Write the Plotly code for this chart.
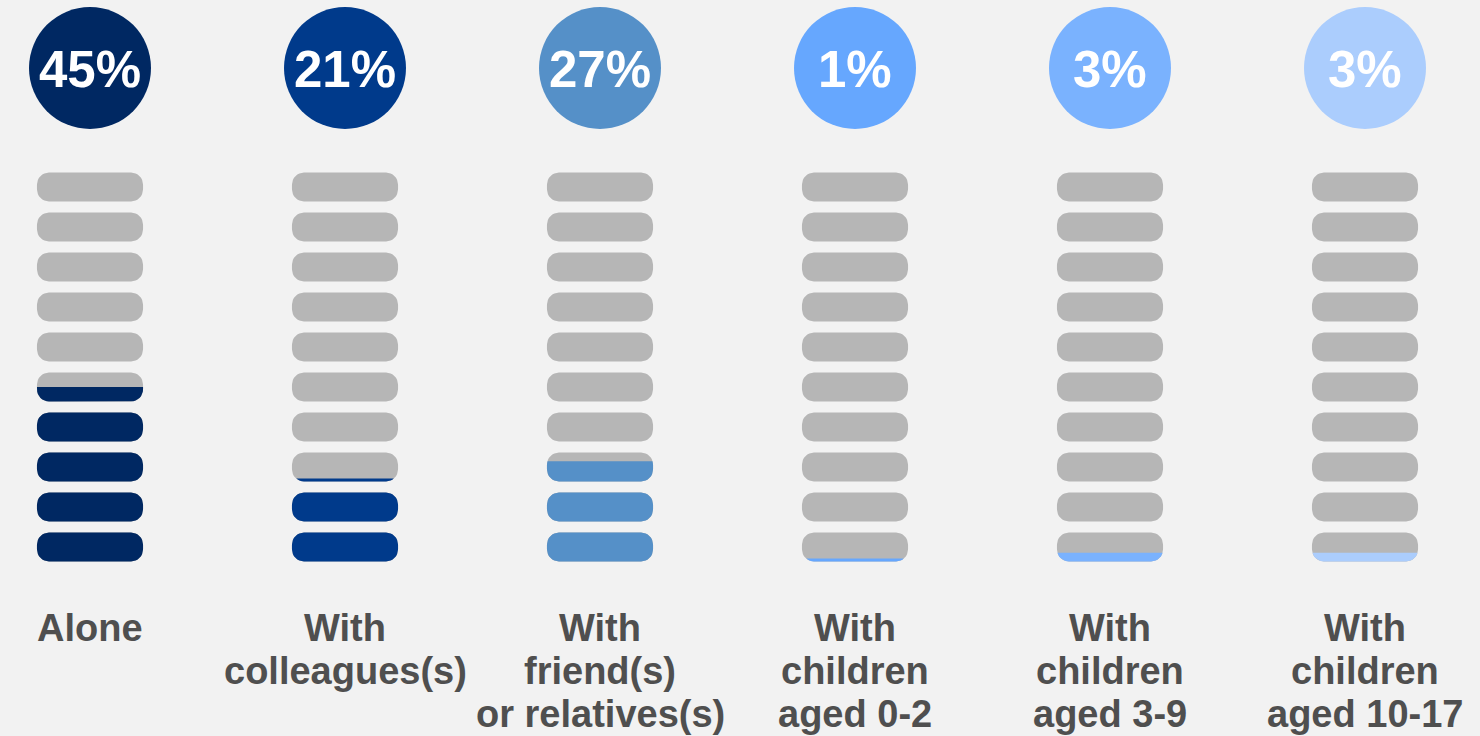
import math
import plotly.graph_objects as go

# ---------------- data ----------------
categories = [
    "Alone",
    "With<br>colleagues(s)",
    "With<br>friend(s)<br>or relatives(s)",
    "With<br>children<br>aged 0-2",
    "With<br>children<br>aged 3-9",
    "With<br>children<br>aged 10-17",
]
values = [45, 21, 27, 1, 3, 3]
colors = ["#002862", "#003a8b", "#5590c8", "#66a7fe", "#7ab2fe", "#abcdfd"]
n_pills = 10            # each pill = 10 %
pct_per_pill = 10

# ---------------- styling ----------------
BG = "#f2f2f2"
GREY = "#b6b6b6"
TEXT = "#4f4f4f"
PX_PER_X = 255.0        # pixels per x unit
PX_PER_Y = 4.0          # pixels per y unit
PILL_H = 7.25           # y units
HALF_H = PILL_H / 2
HALF_W = 0.208          # x units
R_PX = 12
RX, RY = R_PX / PX_PER_X, R_PX / PX_PER_Y
FONT = "Liberation Sans, Arial, sans-serif"

xs = list(range(len(categories)))


def pill_polygon(cx, cy):
    """Rounded rectangle outline around (cx, cy) in data units."""
    pts = []
    corners = [
        (cx + HALF_W - RX, cy + HALF_H - RY, 0),
        (cx - HALF_W + RX, cy + HALF_H - RY, 90),
        (cx - HALF_W + RX, cy - HALF_H + RY, 180),
        (cx + HALF_W - RX, cy - HALF_H + RY, 270),
    ]
    for (ox, oy, a0) in corners:
        for s in range(9):
            a = math.radians(a0 + s * 90 / 8)
            pts.append((ox + RX * math.cos(a), oy + RY * math.sin(a)))
    return pts


def clip_below(poly, t):
    """Keep the part of a convex polygon with y <= t."""
    out = []
    n = len(poly)
    for i in range(n):
        p, q = poly[i], poly[(i + 1) % n]
        pin, qin = p[1] <= t, q[1] <= t
        if pin:
            out.append(p)
        if pin != qin:
            f = (t - p[1]) / (q[1] - p[1])
            out.append((p[0] + f * (q[0] - p[0]), t))
    return out


def to_xy(polys):
    X, Y = [], []
    for poly in polys:
        if len(poly) < 3:
            continue
        X += [p[0] for p in poly] + [poly[0][0], None]
        Y += [p[1] for p in poly] + [poly[0][1], None]
    return X, Y


fig = go.Figure()

# grey pills
grey_polys = []
for i in xs:
    for k in range(n_pills):
        cy = k * pct_per_pill + pct_per_pill / 2
        grey_polys.append(pill_polygon(i, cy))
gX, gY = to_xy(grey_polys)
fig.add_trace(go.Scatter(x=gX, y=gY, mode="lines", fill="toself", fillcolor=GREY,
                         line=dict(width=0, color=GREY), hoverinfo="skip", showlegend=False))

# coloured fills (pill k is filled by the share of its 10 %)
for i, v in enumerate(values):
    polys = []
    for k in range(n_pills):
        frac = min(max(v / pct_per_pill - k, 0), 1)
        if frac <= 0:
            continue
        cy = k * pct_per_pill + pct_per_pill / 2
        top = cy - HALF_H + frac * PILL_H
        poly = pill_polygon(i, cy)
        polys.append(poly if frac >= 1 else clip_below(poly, top))
    fX, fY = to_xy(polys)
    fig.add_trace(go.Scatter(x=fX, y=fY, mode="lines", fill="toself", fillcolor=colors[i],
                             line=dict(width=0, color=colors[i]), hoverinfo="skip", showlegend=False))

# circles with percentages
CIRCLE_Y = 124.75
fig.add_trace(go.Scatter(
    x=xs, y=[CIRCLE_Y] * len(xs), mode="markers",
    marker=dict(size=122, color=colors, line=dict(width=0)),
    hoverinfo="skip", showlegend=False,
))
for i, v in enumerate(values):
    fig.add_annotation(
        x=i, y=CIRCLE_Y, yshift=-1, text=f"<b>{v}%</b>", showarrow=False,
        xanchor="center", yanchor="middle",
        font=dict(family=FONT, size=51, color="white"),
    )

# category labels (one annotation per line)
LABEL_Y = -15.25
LINE_GAP = 43
for i, lab in enumerate(categories):
    for j, line in enumerate(lab.split("<br>")):
        fig.add_annotation(
            x=i, y=LABEL_Y, yshift=-LINE_GAP * j, text=f"<b>{line}</b>",
            showarrow=False, xanchor="center", yanchor="middle",
            font=dict(family=FONT, size=38, color=TEXT),
        )

fig.update_layout(
    width=1480, height=736,
    margin=dict(l=0, r=0, t=0, b=0),
    paper_bgcolor=BG, plot_bgcolor=BG,
    xaxis=dict(range=[-90 / PX_PER_X, (1480 - 90) / PX_PER_X], visible=False, fixedrange=True),
    yaxis=dict(range=[-42.25, 141.75], visible=False, fixedrange=True),
)

fig.write_html("out.html")
